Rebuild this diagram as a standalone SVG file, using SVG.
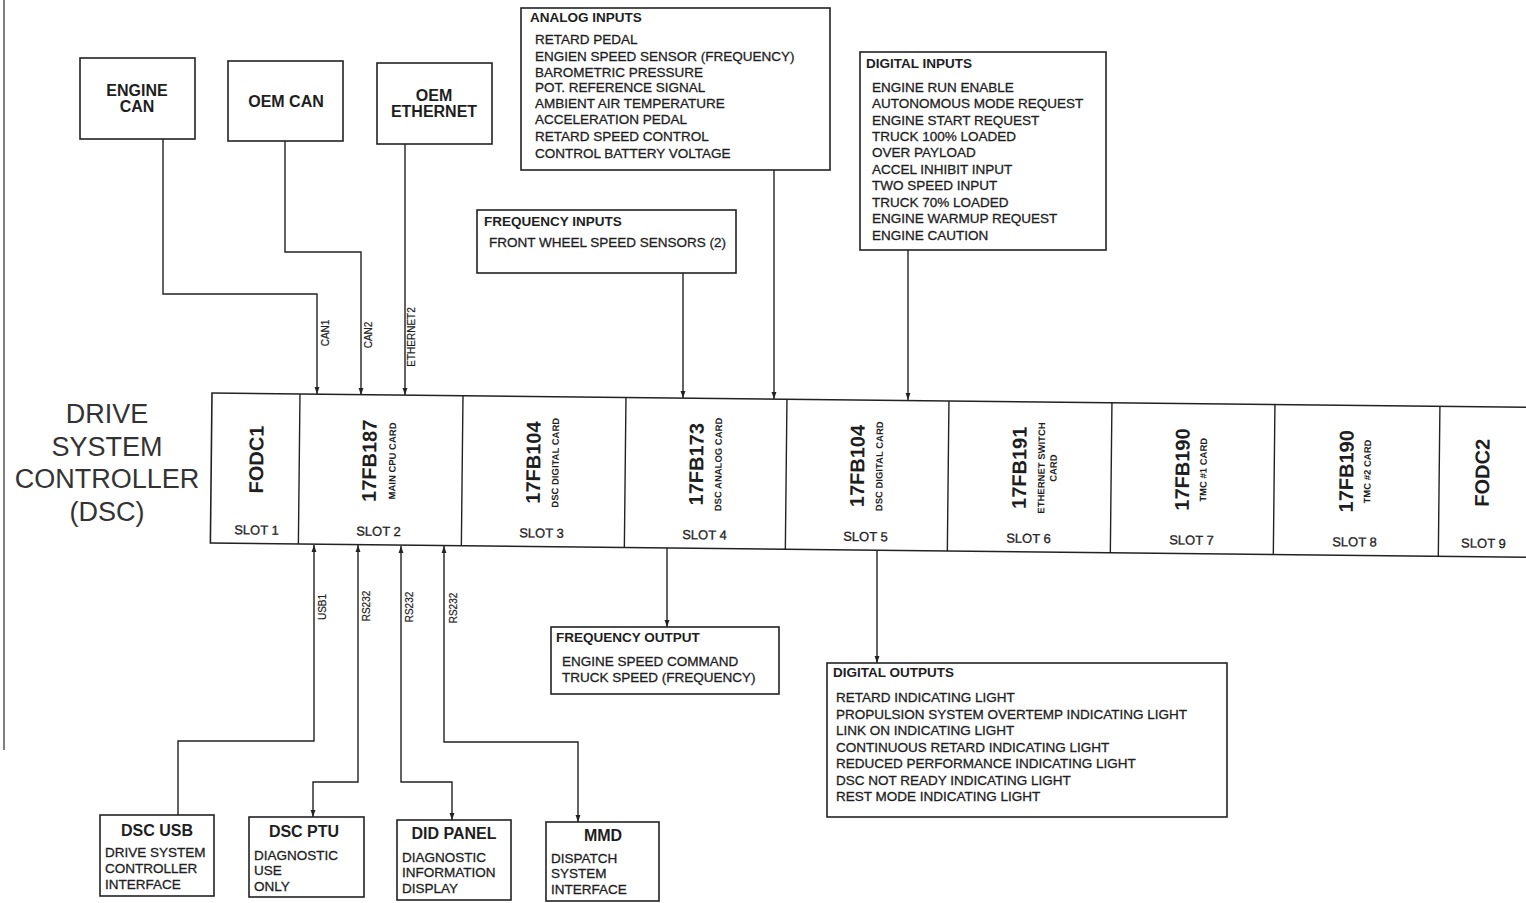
<svg xmlns="http://www.w3.org/2000/svg" width="1526" height="903" viewBox="0 0 1526 903">
<style>
  text { font-family: "Liberation Sans", Arial, sans-serif; fill: #1e1e1e; }
  .box { fill: #ffffff; stroke: #222; stroke-width: 1.6; }
  .ln { fill: none; stroke: #222; stroke-width: 1.4; }
  .hd { font-size: 13.5px; font-weight: bold; }
  .it { font-size: 13.5px; stroke: #1e1e1e; stroke-width: 0.3; }
  .tb { font-size: 16px; font-weight: bold; text-anchor: middle; }
  .card { font-size: 20px; font-weight: bold; text-anchor: middle; }
  .sub { font-size: 9.5px; font-weight: bold; text-anchor: middle; }
  .slot { font-size: 13px; text-anchor: middle; stroke: #1e1e1e; stroke-width: 0.3; }
  .lbl { font-size: 10px; text-anchor: middle; stroke: #1e1e1e; stroke-width: 0.2; }
  .big { font-size: 27px; text-anchor: middle; fill: #333; }
</style>
<defs>
  <marker id="ah" viewBox="0 0 10 10" refX="10" refY="5" markerWidth="7" markerHeight="7" markerUnits="userSpaceOnUse" orient="auto-start-reverse">
    <path d="M0,1.5 L10,5 L0,8.5 Z" fill="#222"/>
  </marker>
</defs>
<rect x="0" y="0" width="1526" height="903" fill="#ffffff"/>
<line x1="4" y1="0" x2="4" y2="750" stroke="#555" stroke-width="1.5"/>

<g id="title">
  <text class="big" x="107" y="423">DRIVE</text>
  <text class="big" x="107" y="456">SYSTEM</text>
  <text class="big" x="107" y="488">CONTROLLER</text>
  <text class="big" x="107" y="521">(DSC)</text>
</g>

<g id="connectors">
  <path class="ln" d="M163,139 V294 H317 V394" marker-end="url(#ah)"/>
  <path class="ln" d="M285,141 V252 H361 V395" marker-end="url(#ah)"/>
  <path class="ln" d="M405,144 V395" marker-end="url(#ah)"/>
  <path class="ln" d="M683,273 V398" marker-end="url(#ah)"/>
  <path class="ln" d="M774,170 V399" marker-end="url(#ah)"/>
  <path class="ln" d="M908,250 V400" marker-end="url(#ah)"/>
  <path class="ln" d="M667,548 V627" marker-end="url(#ah)"/>
  <path class="ln" d="M877,550 V663" marker-end="url(#ah)"/>
  <path class="ln" d="M178,815 V741 H314 V545" marker-end="url(#ah)"/>
  <path class="ln" d="M358,545 V782 H313 V817" marker-start="url(#ah)" marker-end="url(#ah)"/>
  <path class="ln" d="M401,546 V782 H452 V820" marker-start="url(#ah)" marker-end="url(#ah)"/>
  <path class="ln" d="M444,546 V742 H578 V822" marker-start="url(#ah)" marker-end="url(#ah)"/>
  <text class="lbl" transform="translate(328.6,333) rotate(-90)">CAN1</text>
  <text class="lbl" transform="translate(371.6,335) rotate(-90)">CAN2</text>
  <text class="lbl" transform="translate(414.6,337) rotate(-90)">ETHERNET2</text>
  <text class="lbl" transform="translate(325.6,607) rotate(-90)">USB1</text>
  <text class="lbl" transform="translate(369.6,606) rotate(-90)">RS232</text>
  <text class="lbl" transform="translate(412.6,607) rotate(-90)">RS232</text>
  <text class="lbl" transform="translate(456.6,608) rotate(-90)">RS232</text>
</g>

<g id="engine-can">
  <rect class="box" x="80" y="58" width="115" height="81"/>
  <text class="tb" x="137" y="96">ENGINE</text>
  <text class="tb" x="137" y="112">CAN</text>
</g>
<g id="oem-can">
  <rect class="box" x="228" y="61" width="115" height="80"/>
  <text class="tb" x="286" y="107">OEM CAN</text>
</g>
<g id="oem-ethernet">
  <rect class="box" x="377" y="63" width="115" height="81"/>
  <text class="tb" x="434" y="101">OEM</text>
  <text class="tb" x="434" y="117">ETHERNET</text>
</g>

<g id="analog-inputs">
  <rect class="box" x="521" y="8" width="309" height="162"/>
  <text class="hd" x="530" y="22">ANALOG INPUTS</text>
  <text class="it" x="535" y="44">RETARD PEDAL</text>
  <text class="it" x="535" y="61">ENGIEN SPEED SENSOR (FREQUENCY)</text>
  <text class="it" x="535" y="77">BAROMETRIC PRESSURE</text>
  <text class="it" x="535" y="92">POT. REFERENCE SIGNAL</text>
  <text class="it" x="535" y="108">AMBIENT AIR TEMPERATURE</text>
  <text class="it" x="535" y="124">ACCELERATION PEDAL</text>
  <text class="it" x="535" y="141">RETARD SPEED CONTROL</text>
  <text class="it" x="535" y="158">CONTROL BATTERY VOLTAGE</text>
</g>

<g id="digital-inputs">
  <rect class="box" x="860" y="52" width="246" height="198"/>
  <text class="hd" x="866" y="68">DIGITAL INPUTS</text>
  <text class="it" x="872" y="92">ENGINE RUN ENABLE</text>
  <text class="it" x="872" y="108">AUTONOMOUS MODE REQUEST</text>
  <text class="it" x="872" y="125">ENGINE START REQUEST</text>
  <text class="it" x="872" y="141">TRUCK 100% LOADED</text>
  <text class="it" x="872" y="157">OVER PAYLOAD</text>
  <text class="it" x="872" y="174">ACCEL INHIBIT INPUT</text>
  <text class="it" x="872" y="190">TWO SPEED INPUT</text>
  <text class="it" x="872" y="207">TRUCK 70% LOADED</text>
  <text class="it" x="872" y="223">ENGINE WARMUP REQUEST</text>
  <text class="it" x="872" y="240">ENGINE CAUTION</text>
</g>

<g id="frequency-inputs">
  <rect class="box" x="477" y="210" width="259" height="63"/>
  <text class="hd" x="484" y="226">FREQUENCY INPUTS</text>
  <text class="it" x="489" y="247">FRONT WHEEL SPEED SENSORS (2)</text>
</g>

<g id="dsc-bar" transform="rotate(0.62 212 393)">
  <rect class="box" x="212" y="393" width="1330" height="150"/>
  <path class="ln" d="M300,393 V543 M463,393 V543 M626,393 V543 M787,393 V543 M949,393 V543 M1112,393 V543 M1275,393 V543 M1440,393 V543"/>
  <g id="slot1">
    <text class="card" transform="translate(264,459) rotate(-90)">FODC1</text>
    <text class="slot" x="258" y="534">SLOT 1</text>
  </g>
  <g id="slot2">
    <text class="card" transform="translate(377,459) rotate(-90)">17FB187</text>
    <text class="sub" transform="translate(396.4,459) rotate(-90)">MAIN CPU CARD</text>
    <text class="slot" x="380" y="534">SLOT 2</text>
  </g>
  <g id="slot3">
    <text class="card" transform="translate(541,459) rotate(-90)">17FB104</text>
    <text class="sub" transform="translate(559.4,459) rotate(-90)">DSC DIGITAL CARD</text>
    <text class="slot" x="543" y="534">SLOT 3</text>
  </g>
  <g id="slot4">
    <text class="card" transform="translate(704,459) rotate(-90)">17FB173</text>
    <text class="sub" transform="translate(722.4,459) rotate(-90)">DSC ANALOG CARD</text>
    <text class="slot" x="706" y="534">SLOT 4</text>
  </g>
  <g id="slot5">
    <text class="card" transform="translate(865,459) rotate(-90)">17FB104</text>
    <text class="sub" transform="translate(883.4,459) rotate(-90)">DSC DIGITAL CARD</text>
    <text class="slot" x="867" y="534">SLOT 5</text>
  </g>
  <g id="slot6">
    <text class="card" transform="translate(1027,459) rotate(-90)">17FB191</text>
    <text class="sub" transform="translate(1045.4,459) rotate(-90)">ETHERNET SWITCH</text>
    <text class="sub" transform="translate(1057.4,459) rotate(-90)">CARD</text>
    <text class="slot" x="1030" y="534">SLOT 6</text>
  </g>
  <g id="slot7">
    <text class="card" transform="translate(1190,459) rotate(-90)">17FB190</text>
    <text class="sub" transform="translate(1207.4,459) rotate(-90)">TMC #1 CARD</text>
    <text class="slot" x="1193" y="534">SLOT 7</text>
  </g>
  <g id="slot8">
    <text class="card" transform="translate(1354,459) rotate(-90)">17FB190</text>
    <text class="sub" transform="translate(1371.4,459) rotate(-90)">TMC #2 CARD</text>
    <text class="slot" x="1356" y="534">SLOT 8</text>
  </g>
  <g id="slot9">
    <text class="card" transform="translate(1490,459) rotate(-90)">FODC2</text>
    <text class="slot" x="1485" y="534">SLOT 9</text>
  </g>
</g>

<g id="frequency-output">
  <rect class="box" x="551" y="627" width="228" height="67"/>
  <text class="hd" x="556" y="642">FREQUENCY OUTPUT</text>
  <text class="it" x="562" y="666">ENGINE SPEED COMMAND</text>
  <text class="it" x="562" y="682">TRUCK SPEED (FREQUENCY)</text>
</g>

<g id="digital-outputs">
  <rect class="box" x="827" y="663" width="400" height="154"/>
  <text class="hd" x="833" y="677">DIGITAL OUTPUTS</text>
  <text class="it" x="836" y="702">RETARD INDICATING LIGHT</text>
  <text class="it" x="836" y="719">PROPULSION SYSTEM OVERTEMP INDICATING LIGHT</text>
  <text class="it" x="836" y="735">LINK ON INDICATING LIGHT</text>
  <text class="it" x="836" y="752">CONTINUOUS RETARD INDICATING LIGHT</text>
  <text class="it" x="836" y="768">REDUCED PERFORMANCE INDICATING LIGHT</text>
  <text class="it" x="836" y="785">DSC NOT READY INDICATING LIGHT</text>
  <text class="it" x="836" y="801">REST MODE INDICATING LIGHT</text>
</g>

<g id="dsc-usb">
  <rect class="box" x="100" y="815" width="114" height="81"/>
  <text class="tb" x="157" y="836">DSC USB</text>
  <text class="it" x="105" y="857">DRIVE SYSTEM</text>
  <text class="it" x="105" y="873">CONTROLLER</text>
  <text class="it" x="105" y="889">INTERFACE</text>
</g>
<g id="dsc-ptu">
  <rect class="box" x="249" y="817" width="115" height="80"/>
  <text class="tb" x="304" y="837">DSC PTU</text>
  <text class="it" x="254" y="860">DIAGNOSTIC</text>
  <text class="it" x="254" y="875">USE</text>
  <text class="it" x="254" y="891">ONLY</text>
</g>
<g id="did-panel">
  <rect class="box" x="397" y="820" width="114" height="80"/>
  <text class="tb" x="454" y="839">DID PANEL</text>
  <text class="it" x="402" y="862">DIAGNOSTIC</text>
  <text class="it" x="402" y="877">INFORMATION</text>
  <text class="it" x="402" y="893">DISPLAY</text>
</g>
<g id="mmd">
  <rect class="box" x="546" y="822" width="113" height="79"/>
  <text class="tb" x="603" y="841">MMD</text>
  <text class="it" x="551" y="863">DISPATCH</text>
  <text class="it" x="551" y="878">SYSTEM</text>
  <text class="it" x="551" y="894">INTERFACE</text>
</g>
</svg>
